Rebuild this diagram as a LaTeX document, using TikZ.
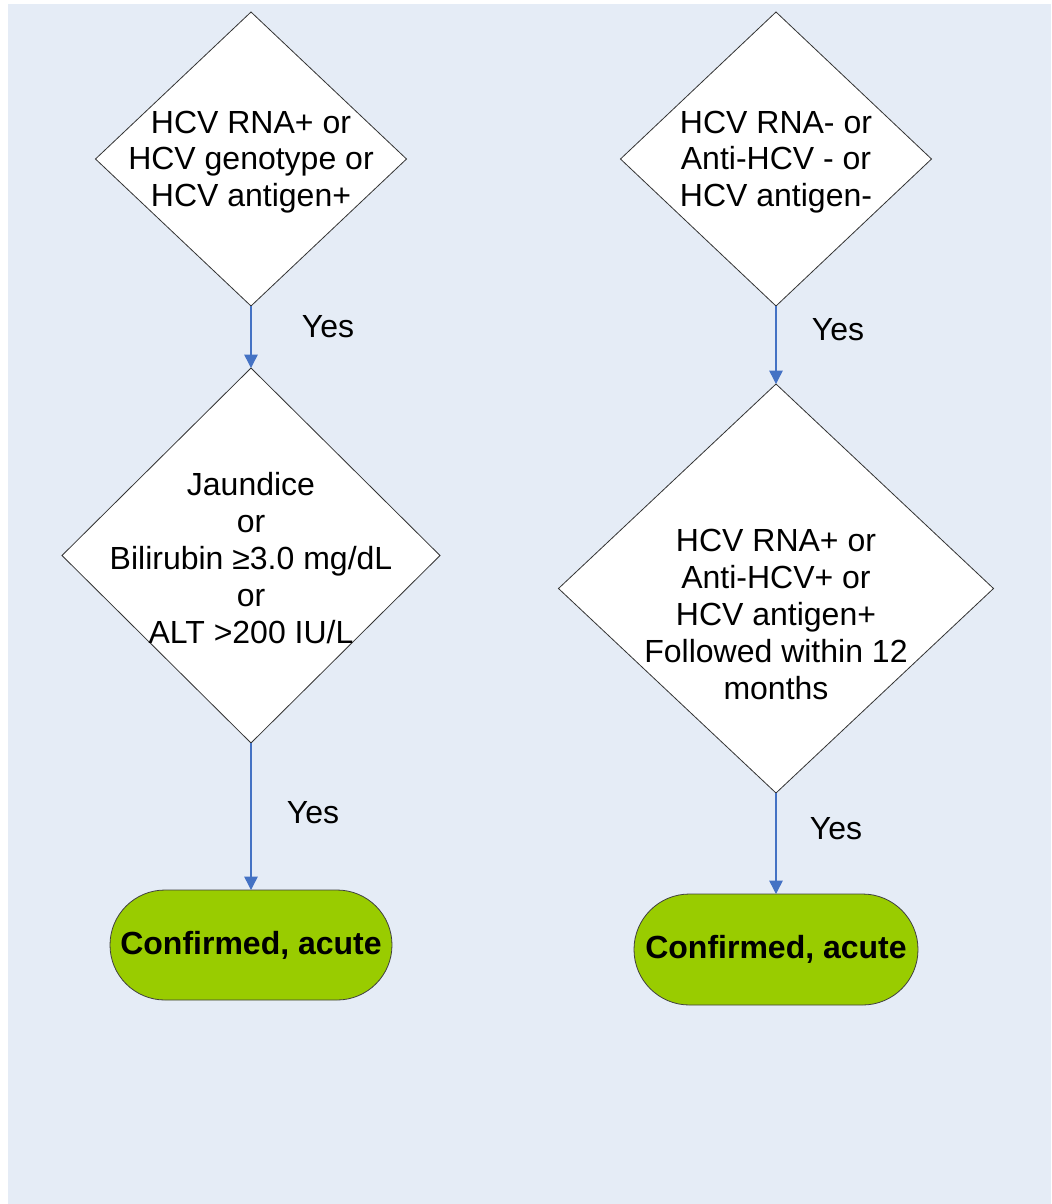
\documentclass[tikz,border=0pt]{standalone}
\usepackage{fontspec}
\setmainfont{Liberation Sans}
\usepackage{tikz}
\usetikzlibrary{shapes.geometric,shapes.misc}
\usetikzlibrary{arrows.meta}
\definecolor{paneBlue}{HTML}{E5ECF6}
\definecolor{okGreen}{HTML}{99CC00}
\definecolor{flowBlue}{HTML}{4472C4}
\tikzstyle{decisionBox} = [diamond, draw=black!80, fill=white, line width=0.6pt,
   inner sep=0pt, outer sep=0pt]
\tikzstyle{endBox} = [rounded rectangle, draw=black!75, fill=okGreen, line width=0.6pt,
   inner sep=0pt, outer sep=0pt, font=\fontsize{24}{27.6}\selectfont\bfseries]
\tikzstyle{boxText} = [align=center, font=\fontsize{24}{27.6}\selectfont]
\tikzstyle{flowArrow} = [draw=flowBlue, line width=1.1pt,
   -{Triangle[width=10pt,length=10pt]}]

\begin{document}
\begin{tikzpicture}[x=0.75pt,y=-0.75pt] %pixel grid
  \useasboundingbox (0,0) rectangle (1051,1204);
  \fill[paneBlue] (8,4) rectangle (1051,1204);
  \node[decisionBox, minimum width=233.25pt, minimum height=220.5pt] (d1) at (251,159) {};
  \node[decisionBox, minimum width=283.5pt, minimum height=281.25pt] (d2) at (251,555.5) {};
  \node[decisionBox, minimum width=233.25pt, minimum height=220.5pt] (d3) at (776,159) {};
  \node[decisionBox, minimum width=326.25pt, minimum height=306.75pt] (d4) at (776,588.5) {};
  \node[endBox, minimum width=211.5pt, minimum height=82.5pt] (e1) at (251,945) {Confirmed, acute};
  \node[endBox, minimum width=213pt, minimum height=83.25pt] (e2) at (776,949.5) {Confirmed, acute};
  \node[boxText] (q1) at (251,162) {HCV RNA+ or\\HCV genotype or\\HCV antigen+};
  \node[boxText] (q2) at (251,558) {Jaundice\\or\\Bilirubin ≥3.0 mg/dL\\or\\ALT >200 IU/L};
  \node[boxText] (q3) at (776,162) {HCV RNA- or\\Anti-HCV - or\\HCV antigen-};
  \node[boxText] (q4) at (776,614.5) {HCV RNA+ or\\Anti-HCV+ or\\HCV antigen+\\Followed within 12\\months};
  \node[boxText] (y1) at (328,327) {Yes};
  \node[boxText] (y2) at (313,813) {Yes};
  \node[boxText] (y3) at (838,330) {Yes};
  \node[boxText] (y4) at (836,829) {Yes};
  \draw [flowArrow] (d1.south) -- (d2.north);
  \draw [flowArrow] (d2.south) -- (e1.north);
  \draw [flowArrow] (d3.south) -- (d4.north);
  \draw [flowArrow] (d4.south) -- (e2.north);
\end{tikzpicture}
\end{document}
